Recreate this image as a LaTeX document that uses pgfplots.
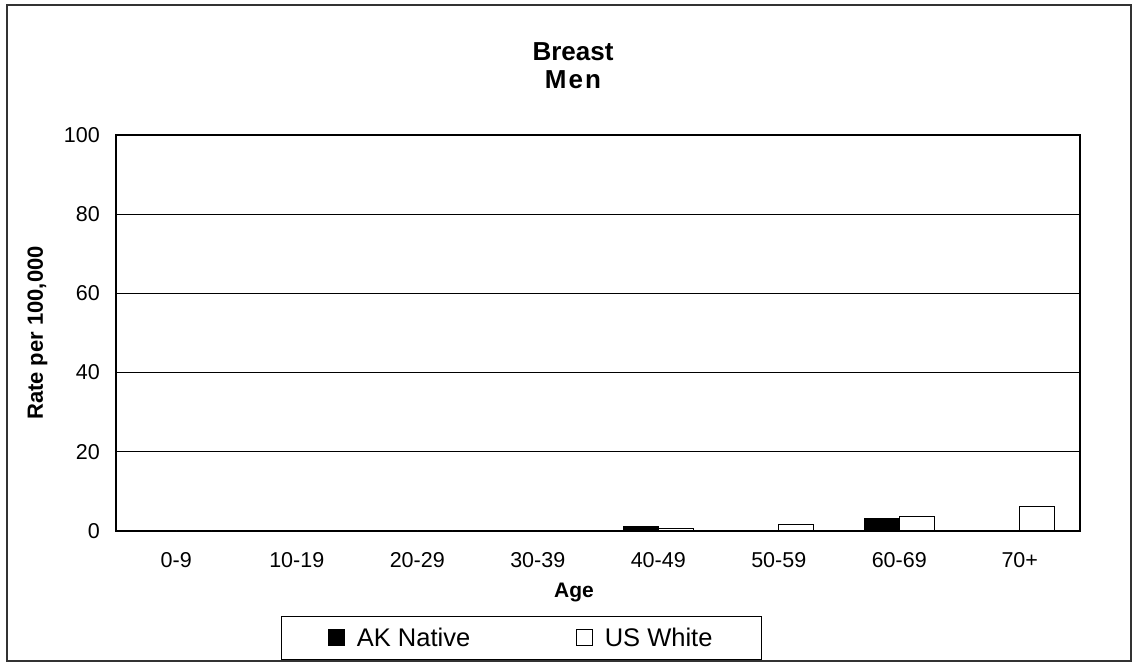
\documentclass[border=0pt]{standalone}
\usepackage{fontspec}
\setmainfont{Liberation Sans}
\usepackage{pgfplots}
\pgfplotsset{compat=1.18}
\begin{document}
\begin{tikzpicture}[x=1pt,y=1pt]
\path[use as bounding box] (0,0) rectangle (1138,666);
\draw[line width=1.5pt, black!80] (7,5) rectangle (1131,661);
\begin{axis}[
  at={(116pt,135pt)}, anchor=south west,
  scale only axis, width=964pt, height=396pt,
  ybar=0pt, bar width=35pt,
  xmin=-0.5, xmax=7.5, ymin=0, ymax=100,
  xtick={0,...,7},
  xticklabels={0-9,10-19,20-29,30-39,40-49,50-59,60-69,70+},
  ytick={0,20,...,100},
  ymajorgrids, grid style={black, line width=0.8pt},
  major tick length=0pt,
  axis line style={line width=1.6pt},
  tick label style={font=\fontsize{21.5}{25}\selectfont},
  /pgf/number format/assume math mode=true,
  yticklabel style={inner sep=0pt, xshift=-16pt},
  xticklabel style={inner sep=0pt, yshift=-21pt},
  legend image code/.code={\draw[#1, line width=1pt] (0pt,-8pt) rectangle (16pt,8pt); \path[draw=none, fill=none] (16pt,0pt) -- (26pt,0pt);},
  legend style={at={(0.4206,-0.2702)}, anchor=center, draw=black, line width=1pt,
    legend columns=2, font=\fontsize{25.5}{30}\selectfont,
    inner xsep=47pt, inner ysep=10pt,
    /tikz/every even column/.append style={column sep=104pt},
    legend cell align=left},
]
\addplot[fill=black, draw=black, line width=1.2pt] coordinates {(0,0) (1,0) (2,0) (3,0) (4,1.1) (5,0) (6,3.1) (7,0)};
\addlegendentry{AK Native}
\addplot[fill=white, draw=black, line width=1.2pt] coordinates {(0,0) (1,0) (2,0) (3,0) (4,0.6) (5,1.6) (6,3.7) (7,6.2)};
\addlegendentry{US White}
\end{axis}
\node[anchor=base, font=\bfseries\fontsize{26}{30}\selectfont] at (573,605) {Breast};
\node[anchor=base, font=\bfseries\fontsize{26}{30}\selectfont\addfontfeatures{LetterSpace=8}] at (573,577) {Men};
\node[rotate=90, font=\bfseries\fontsize{22}{26}\selectfont] at (37.5,333) {Rate per 100,000};
\node[anchor=base, font=\bfseries\fontsize{21}{25}\selectfont] at (574,68) {Age};
\end{tikzpicture}
\end{document}
